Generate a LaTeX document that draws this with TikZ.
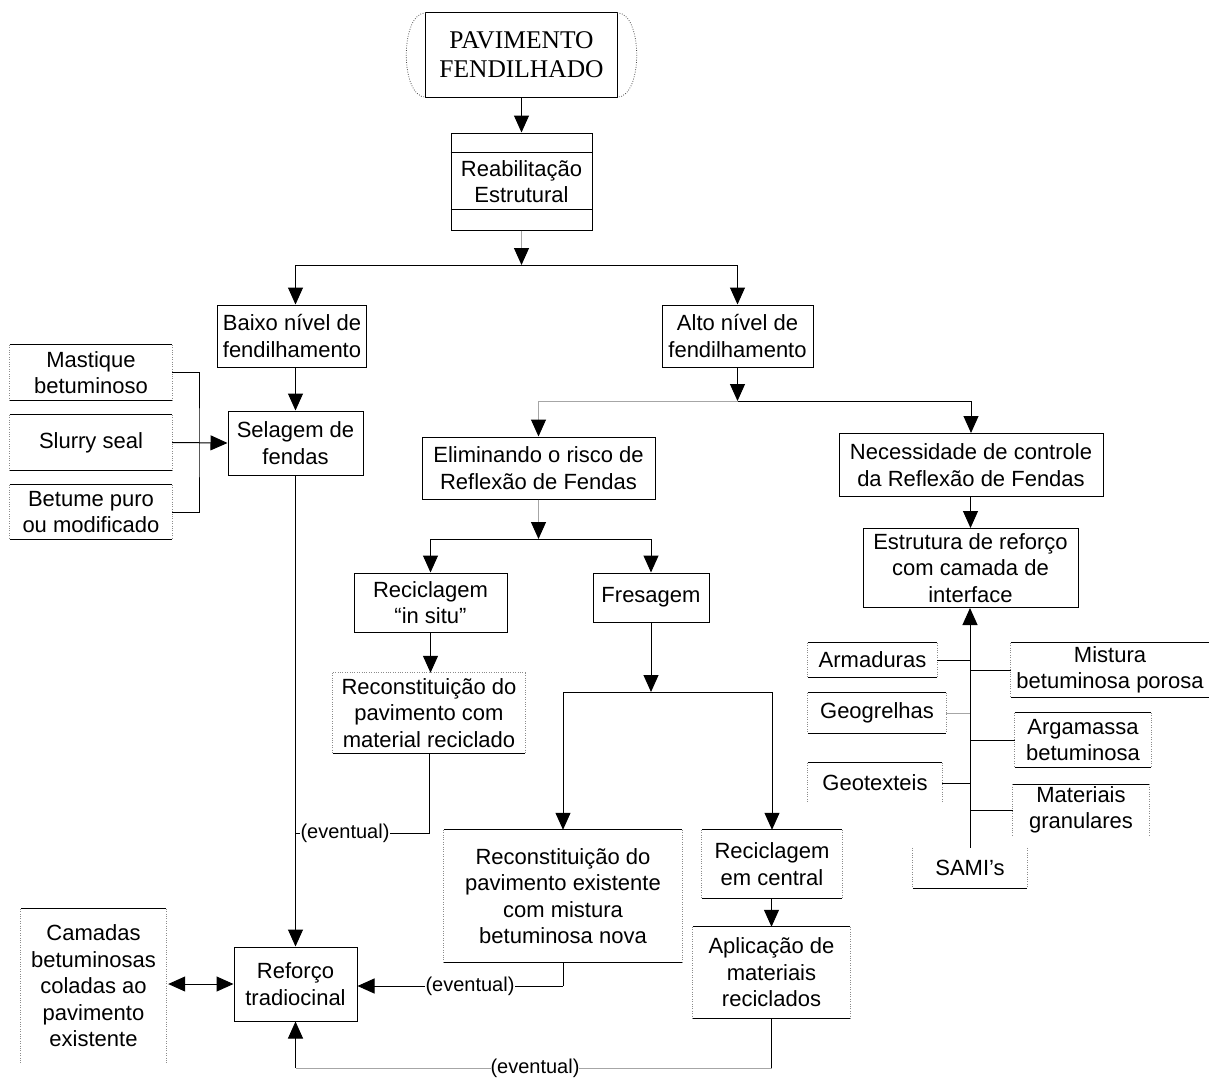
\documentclass[tikz,border=0pt]{standalone}
\usepackage{fontspec}
\usetikzlibrary{arrows.meta,calc}
\newfontfamily\lblfont{Liberation Sans}
\newfontfamily\ttlfont{Liberation Serif}

% helpers for boxes whose sides are drawn one by one
\newcommand\sideT[1]{\draw[edge] (#1.north west) -- (#1.north east);}
\newcommand\sideB[1]{\draw[edge] (#1.south west) -- (#1.south east);}
\newcommand\sideTd[1]{\draw[dots] (#1.north west) -- (#1.north east);}
\newcommand\sideLR[1]{\draw[dots] (#1.north west) -- (#1.south west) (#1.north east) -- (#1.south east);}
\newcommand\sideL[1]{\draw[dots] (#1.north west) -- (#1.south west);}

\begin{document}
\begin{tikzpicture}[x=1pt,y=-1pt,
  edge/.style={draw=black,line width=1pt},
  gedge/.style={draw=black!35,line width=1pt},
  dots/.style={draw=black!45,line width=0.8pt,dash pattern=on 0.8pt off 1.6pt},
  tip/.style={-{Triangle[length=17pt,width=15pt,color=black]}},
  arr/.style={edge,tip},
  garr/.style={gedge,tip},
  box/.style={draw=black,line width=1pt,align=center,inner sep=0pt,
    font=\lblfont\fontsize{22}{26.5}\selectfont},
  obox/.style={align=center,inner sep=0pt,
    font=\lblfont\fontsize{22}{26.5}\selectfont},
  lbl/.style={fill=white,inner sep=1pt,font=\lblfont\fontsize{20}{24}\selectfont},
]
\path[use as bounding box,fill=white] (0,0) rectangle (1210,1079);

% ---- start terminator
\node[inner sep=0pt,minimum width=191pt,minimum height=84pt,align=center,
  font=\ttlfont\fontsize{25.5}{29}\selectfont] (title) at (521.5,55)
  {PAVIMENTO\\FENDILHADO};
\draw[edge] (title.north west) rectangle (title.south east);
\draw[dots,draw=black!70] (title.north west) .. controls +(-26,0) and +(-26,0) .. (title.south west);
\draw[dots,draw=black!70] (title.north east) .. controls +(26,0) and +(26,0) .. (title.south east);

% ---- main boxes
\node[box,minimum width=141pt,minimum height=97pt] (reab) at (521.5,181.5) {Reabilitação\\Estrutural};
\draw[edge] ($(reab.north west)+(0,20)$) -- ($(reab.north east)+(0,20)$);
\draw[edge] ($(reab.south west)+(0,-21)$) -- ($(reab.south east)+(0,-21)$);

\node[box,minimum width=149pt,minimum height=62pt] (baixo) at (292,336) {Baixo nível de\\fendilhamento};
\node[box,minimum width=151pt,minimum height=62pt] (alto) at (737.5,336) {Alto nível de\\fendilhamento};
\node[box,minimum width=135pt,minimum height=64pt] (selagem) at (295.5,443) {Selagem de\\fendas};

\node[obox,minimum width=162pt,minimum height=55pt] (mastique) at (91,372.5) {Mastique\\betuminoso};
\node[obox,minimum width=162pt,minimum height=55pt] (slurry) at (91,442.5) {Slurry seal};
\node[obox,minimum width=162pt,minimum height=54pt] (betume) at (91,512) {Betume puro\\ou modificado};
\foreach \b in {mastique,slurry,betume}{\sideT{\b}\sideB{\b}\sideLR{\b}}

\node[box,minimum width=233pt,minimum height=62pt] (elim) at (538.5,468) {Eliminando o risco de\\Reflexão de Fendas};
\node[box,minimum width=264pt,minimum height=63pt] (nec) at (971,465) {Necessidade de controle\\da Reflexão de Fendas};

\node[box,minimum width=153pt,minimum height=59pt] (insitu) at (430.5,602.5) {Reciclagem\\“in situ”};
\node[box,minimum width=116pt,minimum height=49pt] (fres) at (651,597.5) {Fresagem};

\node[obox,minimum width=192pt,minimum height=80pt] (recmat) at (429,713) {Reconstituição do\\pavimento com\\material reciclado};
\sideTd{recmat}\sideB{recmat}\sideLR{recmat}

\node[obox,minimum width=238pt,minimum height=132pt] (recnova) at (563,896) {Reconstituição do\\pavimento existente\\com mistura\\betuminosa nova};
\sideT{recnova}\sideB{recnova}\sideLR{recnova}

\node[obox,minimum width=140pt,minimum height=68pt] (central) at (772,864) {Reciclagem\\em central};
\sideT{central}\sideB{central}\sideLR{central}

\node[obox,minimum width=157pt,minimum height=91pt] (aplic) at (771.5,972.5) {Aplicação de\\materiais\\reciclados};
\sideT{aplic}\sideB{aplic}\sideLR{aplic}

\node[box,minimum width=123pt,minimum height=74pt] (reforco) at (295.5,984) {Reforço\\tradiocinal};

\node[obox,minimum width=145pt,minimum height=154pt] (camadas) at (93.5,986) {Camadas\\betuminosas\\coladas ao\\pavimento\\existente};
\sideT{camadas}\sideLR{camadas}

\node[box,minimum width=215pt,minimum height=79pt] (estr) at (970.5,568) {Estrutura de reforço\\com camada de\\interface};

% ---- interface layer options
\node[obox,minimum width=129pt,minimum height=34pt] (armad) at (872.5,660) {Armaduras};
\sideT{armad}\sideB{armad}\sideLR{armad}
\node[obox,minimum width=138pt,minimum height=40pt] (geogr) at (877,713) {Geogrelhas};
\sideT{geogr}\sideB{geogr}\sideLR{geogr}
\node[obox,minimum width=134pt,minimum height=40pt] (geotex) at (875,783) {Geotexteis};
\sideT{geotex}\sideLR{geotex}
\node[obox,minimum width=198pt,minimum height=54pt] (mistura) at (1110,670) {Mistura\\betuminosa porosa};
\sideT{mistura}\sideB{mistura}\sideL{mistura}
\node[obox,minimum width=136pt,minimum height=54pt] (argam) at (1083,740) {Argamassa\\betuminosa};
\sideT{argam}\sideB{argam}\sideLR{argam}
\node[obox,minimum width=136pt,minimum height=51pt] (mater) at (1081,810) {Materiais\\granulares};
\sideT{mater}\sideLR{mater}
\node[obox,minimum width=114pt,minimum height=40pt] (sami) at (970,868) {SAMI’s};
\sideB{sami}\sideLR{sami}

% ---- connectors
\draw[arr] (title.south) -- (reab.north);

\coordinate (j1) at (521.5,265);
\draw[garr] (reab.south) -- (j1);
\draw[arr] (j1) -| (selagem.north |- baixo.north);
\draw[arr] (j1) -| (alto.north);

\draw[arr] (selagem.north |- baixo.south) -- (selagem.north);

\coordinate (br) at (199,443);
\draw[edge] (mastique.east) -| (br) |- (betume.east);
\draw[arr] (slurry.east) -- (selagem.west);

\draw[arr] (selagem.south) -- (reforco.north);

\coordinate (j2) at (737.5,401);
\draw[arr] (alto.south) -- (j2);
\draw[arr] (j2) -| (nec.north);
\draw[garr] (j2) -| (elim.north);

\coordinate (j3) at (538.5,539);
\draw[garr] (elim.south) -- (j3);
\draw[arr] (j3) -| (insitu.north);
\draw[arr] (j3) -| (fres.north);

\draw[arr] (insitu.south) -- (recmat.north -| insitu.south);

\coordinate (e1) at (recmat.south |- 0,833);
\draw[edge] (recmat.south) -- (e1) -- (e1 -| reforco.north);
\node[lbl] (ev1) at (345,833) {(eventual)};

\coordinate (j4) at (651,692);
\draw[arr] (fres.south) -- (j4);
\draw[arr] (j4) -| (recnova.north);
\draw[arr] (j4) -| (central.north);

\draw[arr] (central.south -| aplic.north) -- (aplic.north);

\coordinate (e2) at (recnova.south |- 0,986);
\draw[edge] (recnova.south) -- (e2);
\draw[arr] (e2) -- (reforco.east |- e2);
\node[lbl] (ev2) at (470,986) {(eventual)};

\coordinate (e3) at (aplic.south |- 0,1068);
\draw[edge] (aplic.south) -- (e3);
\draw[gedge] (e3) -- (e3 -| reforco.south);
\draw[arr] (e3 -| reforco.south) -- (reforco.south);
\node[lbl,inner sep=0pt] (ev3) at (535,1068) {(eventual)};

\draw[edge,{Triangle[length=17pt,width=15pt]}-{Triangle[length=17pt,width=15pt]}]
  ($(reforco.west -| camadas.east)+(2,0)$) -- (reforco.west);

\draw[arr] (nec.south -| estr.north) -- (estr.north);
\draw[arr] (sami.north) -- (estr.south -| sami.north);
\draw[edge] (armad.east) -- (armad.east -| sami.north);
\draw[gedge] (geogr.east) -- (geogr.east -| sami.north);
\draw[edge] (geotex.east) -- (geotex.east -| sami.north);
\draw[edge] (mistura.west) -- (mistura.west -| sami.north);
\draw[edge] (argam.west) -- (argam.west -| sami.north);
\draw[edge] (mater.west) -- (mater.west -| sami.north);
\end{tikzpicture}
\end{document}
